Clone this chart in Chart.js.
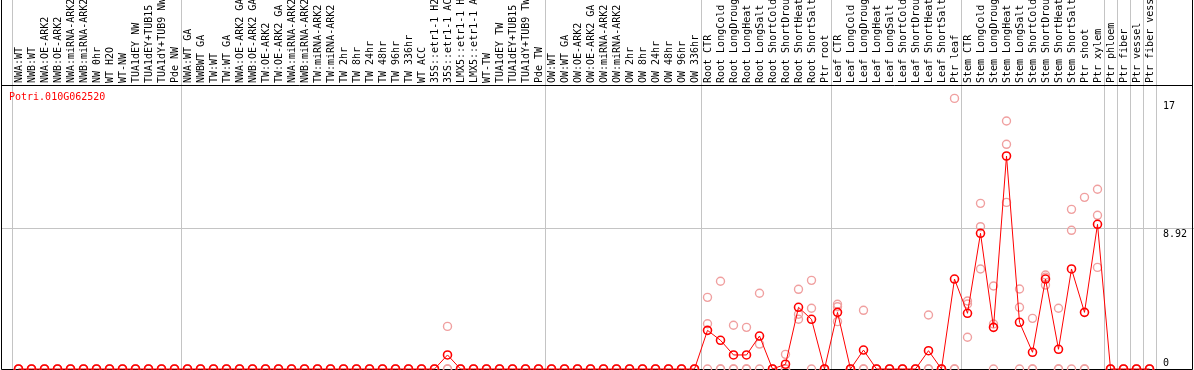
<!DOCTYPE html>
<html>
<head>
<meta charset="utf-8">
<script src="https://cdn.jsdelivr.net/npm/chart.js@4/dist/chart.umd.min.js"></script>
<style>
  html, body { margin: 0; padding: 0; background: #fff; }
  #wrap { width: 1194px; height: 370px; }
</style>
</head>
<body>
<div id="wrap"><canvas id="exprChart" width="1194" height="370"></canvas></div>
<script>
// gene shown in the plot
const geneId = "Potri.010G062520";

// sample names, in plot order
const sampleLabels = [
  // wood, normal
  "NWA:WT", "NWB:WT", "NWA:OE-ARK2", "NWB:OE-ARK2", "NWA:miRNA-ARK2", "NWB:miRNA-ARK2",
  "NW 0hr", "WT H2O", "WT-NW", "TUA1dEY NW", "TUA1dEY+TUB15 NW", "TUA1dY+TUB9 NW", "Pde NW",
  // tension wood
  "NWA:WT GA", "NWBWT GA", "TW:WT", "TW:WT GA", "NWA:OE-ARK2 GA", "NWB:OE-ARK2 GA",
  "TW:OE-ARK2", "TW:OE-ARK2 GA", "NWA:miRNA-ARK2 GA", "NWB:miRNA-ARK2 GA", "TW:miRNA-ARK2",
  "TW:miRNA-ARK2 GA", "TW 2hr", "TW 8hr", "TW 24hr", "TW 48hr", "TW 96hr", "TW 336hr", "WT ACC",
  "35S::etr1-1 H2O", "35S::etr1-1 ACC", "LMX5::etr1-1 H2O", "LMX5::etr1-1 ACC", "WT-TW",
  "TUA1dEY TW", "TUA1dEY+TUB15 TW", "TUA1dY+TUB9 TW", "Pde TW",
  // opposite wood
  "OW:WT", "OW:WT GA", "OW:OE-ARK2", "OW:OE-ARK2 GA", "OW:miRNA-ARK2", "OW:miRNA-ARK2 GA",
  "OW 2hr", "OW 8hr", "OW 24hr", "OW 48hr", "OW 96hr", "OW 336hr",
  // root
  "Root CTR", "Root LongCold", "Root LongDrought", "Root LongHeat", "Root LongSalt",
  "Root ShortCold", "Root ShortDrought", "Root ShortHeat", "Root ShortSalt", "Ptr root",
  // leaf
  "Leaf CTR", "Leaf LongCold", "Leaf LongDrought", "Leaf LongHeat", "Leaf LongSalt",
  "Leaf ShortCold", "Leaf ShortDrought", "Leaf ShortHeat", "Leaf ShortSalt", "Ptr leaf",
  // stem
  "Stem CTR", "Stem LongCold", "Stem LongDrought", "Stem LongHeat", "Stem LongSalt",
  "Stem ShortCold", "Stem ShortDrought", "Stem ShortHeat", "Stem ShortSalt", "Ptr shoot", "Ptr xylem",
  // cell types
  "Ptr phloem", "Ptr fiber", "Ptr vessel", "Ptr fiber vessel",
];

// mean expression (red line)
const meanValues = [
  0, 0, 0, 0, 0, 0, 0, 0, 0, 0, 0, 0, 0,
  0, 0, 0, 0, 0, 0, 0, 0, 0, 0, 0, 0, 0, 0, 0, 0, 0, 0, 0, 0, 0.89, 0, 0, 0, 0, 0, 0, 0,
  0, 0, 0, 0, 0, 0, 0, 0, 0, 0, 0, 0,
  2.45, 1.82, 0.89, 0.89, 2.09, 0, 0.3, 3.91, 3.15, 0,
  3.59, 0, 1.2, 0, 0, 0, 0, 1.16, 0, 5.7,
  3.53, 8.6, 2.64, 13.5, 2.96, 1.06, 5.7, 1.25, 6.34, 3.59, 9.17,
  0, 0, 0, 0,
];

// replicates (pale circles)
const rep1Values = [
  0, 0, 0, 0, 0, 0, 0, 0, 0, 0, 0, 0, 0,
  0, 0, 0, 0, 0, 0, 0, 0, 0, 0, 0, 0, 0, 0, 0, 0, 0, 0, 0, 0, 2.7, 0, 0, 0, 0, 0, 0, 0,
  0, 0, 0, 0, 0, 0, 0, 0, 0, 0, 0, 0,
  4.54, 5.56, 2.77, 2.64, 4.8, 0, 0.93, 5.05, 5.62, 0,
  4.1, 0, 3.72, 0, 0, 0, 0, 3.42, 0, 17.15,
  4.31, 10.5, 5.26, 15.72, 5.07, 3.21, 5.96, 3.85, 10.12, 10.88, 11.39,
  0, 0, 0, 0,
];
const rep2Values = [
  0, 0, 0, 0, 0, 0, 0, 0, 0, 0, 0, 0, 0,
  0, 0, 0, 0, 0, 0, 0, 0, 0, 0, 0, 0, 0, 0, 0, 0, 0, 0, 0, 0, 0, 0, 0, 0, 0, 0, 0, 0,
  0, 0, 0, 0, 0, 0, 0, 0, 0, 0, 0, 0,
  2.87, 0, 0, 0, 1.58, 0, 0, 3.47, 3.85, 0,
  3.95, 0, 0, 0, 0, 0, 0, 0, 0, 0,
  4.12, 9.02, 2.85, 14.24, 3.91, 0, 5.82, 0, 8.79, 0, 9.74,
  0, 0, 0, 0,
];
const rep3Values = [
  0, 0, 0, 0, 0, 0, 0, 0, 0, 0, 0, 0, 0,
  0, 0, 0, 0, 0, 0, 0, 0, 0, 0, 0, 0, 0, 0, 0, 0, 0, 0, 0, 0, 0, 0, 0, 0, 0, 0, 0, 0,
  0, 0, 0, 0, 0, 0, 0, 0, 0, 0, 0, 0,
  0, 0, 0, 0, 0, 0, 0, 3.15, 0, 0,
  3.0, 0, 0, 0, 0, 0, 0, 0, 0, 0,
  2.01, 6.34, 0, 10.56, 0, 0, 5.32, 0, 0, 0, 6.44,
  0, 0, 0, 0,
];

// y ticks on the right, and where the sample groups break
const yTickValues = [0, 8.92, 17];
const yMax = 18;
const groupBreaks = [0, 13, 41, 53, 63, 73, 84, 85, 86, 87, 88];

const FONT = "'DejaVu Sans Mono', monospace";
const GRID_GREY = "#c4c4c4";

// grid colour for the category lines: only at the group breaks
function breakColor(ctx) {
  const i = ctx.type === "tick" ? ctx.index : sampleLabels.length;
  return groupBreaks.includes(i) ? GRID_GREY : "rgba(0,0,0,0)";
}

// frame, the 8.92 line and the gene name
const framePlugin = {
  id: "frame",
  beforeDatasetsDraw(chart) {
    const { ctx, chartArea, width } = chart;
    const y = chart.scales.y;
    ctx.save();
    ctx.lineWidth = 1;
    ctx.strokeStyle = GRID_GREY;
    const midY = Math.round(y.getPixelForValue(yTickValues[1])) + 0.5;
    ctx.beginPath();
    ctx.moveTo(2, midY);
    ctx.lineTo(width, midY);
    ctx.stroke();
    ctx.strokeStyle = "#000";
    ctx.beginPath();
    ctx.moveTo(1.5, 0);
    ctx.lineTo(1.5, chartArea.bottom + 0.5);
    ctx.lineTo(width - 1.5, chartArea.bottom + 0.5);
    ctx.lineTo(width - 1.5, 0);
    ctx.moveTo(1.5, chartArea.top + 0.5);
    ctx.lineTo(width - 1.5, chartArea.top + 0.5);
    ctx.stroke();
    ctx.restore();
  },
  afterDraw(chart) {
    const { ctx, chartArea } = chart;
    ctx.save();
    ctx.font = "10px " + FONT;
    ctx.fillStyle = "#ff0000";
    ctx.textBaseline = "middle";
    ctx.fillText(geneId, 9, chartArea.top + 12);
    ctx.restore();
  },
};

const ctx = document.getElementById("exprChart").getContext("2d");

new Chart(ctx, {
  type: "line",
  data: {
    labels: sampleLabels,
    datasets: [
      {
        label: "mean",
        data: meanValues,
        borderColor: "#ff0000",
        borderWidth: 1,
        pointRadius: 4,
        pointBorderWidth: 1.6,
        pointBorderColor: "#ff0000",
        pointBackgroundColor: "rgba(0,0,0,0)",
        tension: 0,
      },
      {
        label: "rep1",
        data: rep1Values,
        showLine: false,
        pointRadius: 4,
        pointBorderWidth: 1.4,
        pointBorderColor: "#f0a0a0",
        pointBackgroundColor: "rgba(0,0,0,0)",
      },
      {
        label: "rep2",
        data: rep2Values,
        showLine: false,
        pointRadius: 4,
        pointBorderWidth: 1.4,
        pointBorderColor: "#f0a0a0",
        pointBackgroundColor: "rgba(0,0,0,0)",
      },
      {
        label: "rep3",
        data: rep3Values,
        showLine: false,
        pointRadius: 4,
        pointBorderWidth: 1.4,
        pointBorderColor: "#f0a0a0",
        pointBackgroundColor: "rgba(0,0,0,0)",
      },
    ],
  },
  options: {
    responsive: false,
    animation: false,
    events: [],
    clip: false,
    layout: {
      autoPadding: false,
      padding: { left: 12, top: 0, right: 0, bottom: 1 },
    },
    scales: {
      x: {
        type: "category",
        position: "top",
        offset: true,
        afterFit: (scale) => {
          scale.height = 85;
          scale.paddingLeft = 0;
          scale.paddingRight = 0;
        },
        grid: {
          offset: true,
          drawOnChartArea: true,
          drawTicks: true,
          tickLength: 85,
          color: breakColor,
          tickColor: breakColor,
          lineWidth: 1,
        },
        border: { display: false },
        ticks: {
          autoSkip: false,
          minRotation: 90,
          maxRotation: 90,
          padding: -83,
          labelOffset: 13,
          color: "#000",
          font: { family: FONT, size: 10 },
        },
      },
      y: {
        type: "linear",
        position: "right",
        min: 0,
        max: yMax,
        afterFit: (scale) => {
          scale.width = 38;
          scale.paddingTop = 0;
          scale.paddingBottom = 0;
        },
        afterBuildTicks: (scale) => {
          scale.ticks = yTickValues.map((v) => ({ value: v }));
        },
        grid: { display: false, drawTicks: false },
        border: { display: false },
        ticks: {
          padding: 7,
          color: "#000",
          font: { family: FONT, size: 10 },
          callback: (v) => (v === 0 ? ["0", ""] : ["", String(v)]),
        },
      },
    },
    plugins: {
      legend: { display: false },
      tooltip: { enabled: false },
      title: { display: false },
    },
  },
  plugins: [framePlugin],
});
</script>
</body>
</html>
